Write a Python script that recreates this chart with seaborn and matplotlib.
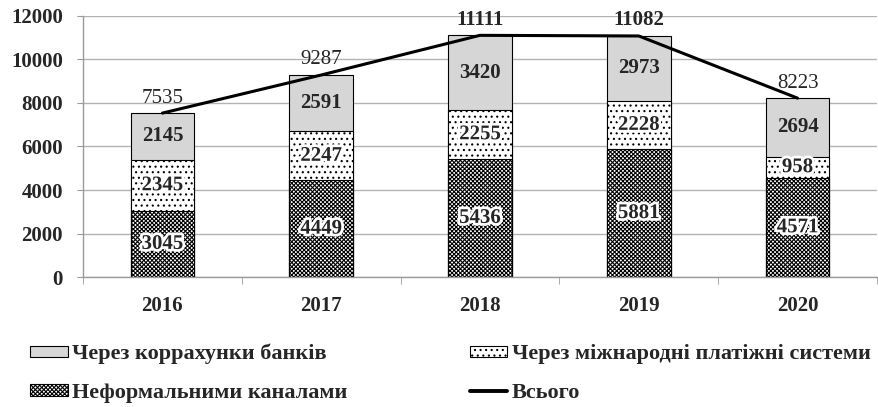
import matplotlib
matplotlib.use("Agg")
import matplotlib.pyplot as plt
import matplotlib.patheffects as pe
from matplotlib.patches import Patch
from matplotlib.lines import Line2D
import numpy as np
import seaborn as sns

# ----------------------------------------------------------
# data
# ----------------------------------------------------------
years = ["2016", "2017", "2018", "2019", "2020"]
informal = [3045, 4449, 5436, 5881, 4571]      # Неформальними каналами
payment_sys = [2345, 2247, 2255, 2228, 958]    # Через міжнародні платіжні системи
bank_acc = [2145, 2591, 3420, 2973, 2694]      # Через коррахунки банків
totals = [7535, 9287, 11111, 11082, 8223]      # Всього

lbl_bank = "Через коррахунки банків"
lbl_pay = "Через міжнародні платіжні системи"
lbl_inf = "Неформальними каналами"
lbl_tot = "Всього"

# ----------------------------------------------------------
# style
# ----------------------------------------------------------
sns.set_style("white")
plt.rcParams["font.family"] = ["Liberation Serif", "DejaVu Serif"]
plt.rcParams["hatch.linewidth"] = 0.8

FS = 15
GRAY = "#d6d6d6"
AXIS_GRAY = "#9a9a9a"
# the two highest totals are printed in bold in the original
total_weight = ["normal", "normal", "bold", "bold", "normal"]

fig = plt.figure(figsize=(8.79, 4.07), dpi=100)
ax = fig.add_axes([0.0944, 0.3194, 0.9033, 0.6413])

stack_mid = np.array(informal) + np.array(payment_sys)
stack_top = stack_mid + np.array(bank_acc)

# stacked bars drawn as overlapping cumulative layers
common = dict(width=0.4, saturation=1, edgecolor="black", linewidth=0.8, ax=ax)
sns.barplot(x=years, y=stack_top, color=GRAY, **common)
sns.barplot(x=years, y=stack_mid, color="white", hatch="...", **common)
sns.barplot(x=years, y=informal, color="white", hatch="xxxxxxxx", **common)

# total line
sns.lineplot(x=np.arange(len(years)), y=totals, color="black", linewidth=2.2,
             ax=ax, legend=False)

# labels inside the bars
halo = [pe.withStroke(linewidth=4, foreground="white")]
for i in range(len(years)):
    ax.text(i, informal[i] / 2, str(informal[i]), ha="center", va="center",
            fontsize=FS, fontweight="bold", path_effects=halo)
    ax.text(i, informal[i] + payment_sys[i] / 2, str(payment_sys[i]),
            ha="center", va="center", fontsize=FS, fontweight="bold",
            path_effects=halo)
    ax.text(i, stack_mid[i] + bank_acc[i] / 2, str(bank_acc[i]),
            ha="center", va="center", fontsize=FS, fontweight="bold")
    ax.annotate(str(totals[i]), (i, totals[i]), xytext=(0, 4),
                textcoords="offset points", ha="center", va="bottom",
                fontsize=FS, fontweight=total_weight[i], annotation_clip=False)

# axes
ax.set_ylim(0, 12000)
ax.set_xlim(-0.5, len(years) - 0.5)
yt = list(range(0, 12001, 2000))
ax.set_yticks(yt)
ax.set_yticklabels([str(v) for v in yt], fontsize=FS, fontweight="bold")
ax.set_xticks(range(len(years)))
ax.set_xticklabels(years, fontsize=FS, fontweight="bold")
ax.yaxis.grid(True, color="#b3b3b3", linewidth=1)
ax.set_axisbelow(True)
for s in ["top", "right"]:
    ax.spines[s].set_visible(False)
for s in ["left", "bottom"]:
    ax.spines[s].set_color(AXIS_GRAY)
    ax.spines[s].set_linewidth(1)
ax.set_xlabel("")
ax.set_ylabel("")
ax.tick_params(axis="y", left=True, length=4.3, color=AXIS_GRAY, pad=10)
ax.tick_params(axis="x", which="major", length=0, pad=14)
ax.set_xticks(np.arange(-0.5, len(years)), minor=True)
ax.tick_params(axis="x", which="minor", bottom=True, length=5, color=AXIS_GRAY)

# legend
h_bank = Patch(facecolor=GRAY, edgecolor="black", linewidth=0.8)
h_pay = Patch(facecolor="white", edgecolor="black", linewidth=0.8, hatch="...")
h_inf = Patch(facecolor="white", edgecolor="black", linewidth=0.8,
              hatch="xxxxxxxx")
h_tot = Line2D([], [], color="black", linewidth=2.8)
fig.legend([h_bank, h_inf, h_pay, h_tot], [lbl_bank, lbl_inf, lbl_pay, lbl_tot],
           loc="upper left", bbox_to_anchor=(0.034, 0.155), ncol=2,
           frameon=False, borderpad=0, borderaxespad=0,
           handlelength=1.7, handleheight=0.45,
           handletextpad=0.2, columnspacing=5.5, labelspacing=0.82,
           prop={"size": 16, "weight": "bold"})

fig.savefig("out.png", dpi=100)
